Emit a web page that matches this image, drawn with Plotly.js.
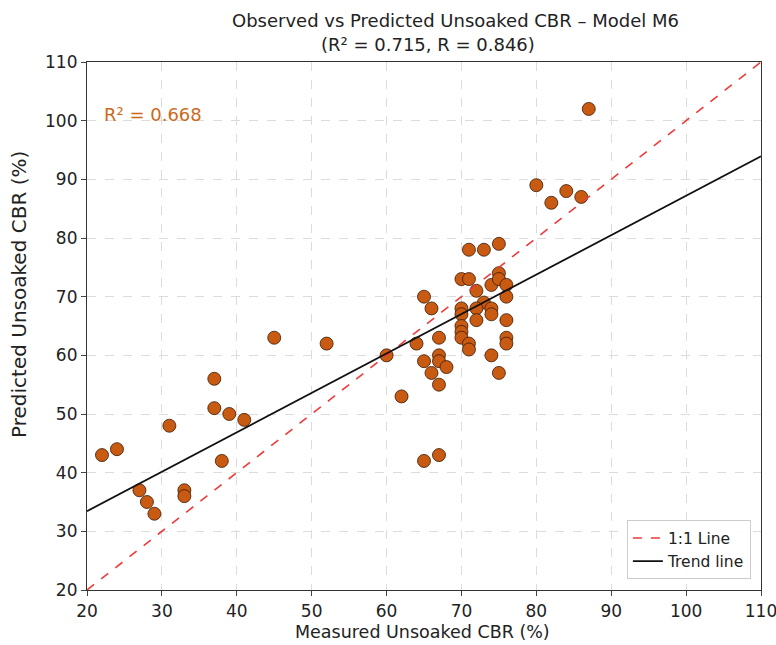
<!DOCTYPE html>
<html>
<head>
<meta charset="utf-8">
<script src="https://cdn.plot.ly/plotly-3.0.1.min.js"></script>
<style>html,body{margin:0;padding:0;background:#fff;}#chart{width:776px;height:645px;}</style>
</head>
<body>
<div id="chart"></div>
<script>
const measured = [71,73,75,70,71,75,74,75,76,72,76,65,66,70,70,73,72,74,74,72,76,70,70,70,76,76,71,71,67,64,74,67,67,65,68,66,75,67,62,65,67,60,52,45,37,37,39,41,31,22,24,38,27,28,29,33,33,87,80,82,84,86];
const predicted = [78,78,79,73,73,74,72,73,72,71,70,70,68,68,67,69,68,68,67,66,66,65,64,63,63,62,62,61,63,62,60,60,59,59,58,57,57,55,53,42,43,60,62,63,56,51,50,49,48,43,44,42,37,35,33,37,36,102,89,86,88,87];
const axisRange = [20, 110];
const tickVals = [20,30,40,50,60,70,80,90,100,110];
const trendSlope = 0.672;
const trendIntercept = 20.0;
const r2Trend = 0.668;
const titleLines = ['Observed vs Predicted Unsoaked CBR – Model M6', '(R² = 0.715, R = 0.846)'];
const xTitle = 'Measured Unsoaked CBR (%)';
const yTitle = 'Predicted Unsoaked CBR (%)';

const x1 = axisRange;
const trendY = x1.map(v => trendSlope * v + trendIntercept);

const traces = [
  {x: measured, y: predicted, mode: 'markers', type: 'scatter', showlegend: false,
   marker: {color: '#c95a12', size: 13, line: {color: '#3a1a05', width: 0.8}}},
  {x: x1, y: x1, mode: 'lines', type: 'scatter', name: '1:1 Line',
   line: {color: '#ee3b3b', width: 1.6, dash: 'dash'}},
  {x: x1, y: trendY, mode: 'lines', type: 'scatter', name: 'Trend line',
   line: {color: '#111111', width: 1.8}}
];

const FONT = 'DejaVu Sans, sans-serif';
const gridStyle = {showgrid: true, gridcolor: '#dcdcdc', griddash: 'dash', gridwidth: 1};
const layout = {
  width: 776, height: 645,
  margin: {l: 87, r: 15, t: 62, b: 55},
  paper_bgcolor: '#fff', plot_bgcolor: '#fff',
  font: {family: FONT, size: 17, color: '#222'},
  xaxis: Object.assign({range: axisRange, tickvals: tickVals, ticks: 'outside', ticklen: 5,
          showline: true, linecolor: '#333', linewidth: 1.2, mirror: true, zeroline: false,
          tickfont: {size: 17}, ticklabeloverflow: 'allow'}, gridStyle),
  yaxis: Object.assign({range: axisRange, tickvals: tickVals, ticks: 'outside', ticklen: 5,
          showline: true, linecolor: '#333', linewidth: 1.2, mirror: true, zeroline: false,
          tickfont: {size: 17}, ticklabeloverflow: 'allow'}, gridStyle),
  legend: {x: 0.985, y: 0.02, xanchor: 'right', yanchor: 'bottom', bgcolor: 'rgba(255,255,255,0.9)',
           bordercolor: '#cccccc', borderwidth: 1, font: {size: 15.5}},
  annotations: [
    {x: 22, y: 101, xref: 'x', yref: 'y', xanchor: 'left', showarrow: false,
     text: 'R² = ' + r2Trend.toFixed(3), font: {size: 18, color: '#cc6a1c'}},
    {x: 0.5, y: 1, xref: 'paper', yref: 'paper', yanchor: 'middle', xshift: 31, yshift: 42, showarrow: false,
     text: titleLines[0], font: {size: 18, color: '#222'}},
    {x: 0.5, y: 1, xref: 'paper', yref: 'paper', yanchor: 'middle', xshift: 4, yshift: 18, showarrow: false,
     text: titleLines[1], font: {size: 18, color: '#222'}},
    {x: 0.5, y: 0, xref: 'paper', yref: 'paper', yanchor: 'middle', xshift: -2, yshift: -42, showarrow: false,
     text: xTitle, font: {size: 17.5, color: '#222'}},
    {x: 0, y: 0.5, xref: 'paper', yref: 'paper', xanchor: 'center', yanchor: 'middle', textangle: -90,
     xshift: -68, yshift: 31, showarrow: false, text: yTitle, font: {size: 20, color: '#222'}}
  ]
};
Plotly.newPlot('chart', traces, layout, {displayModeBar: false});
</script>
</body>
</html>
